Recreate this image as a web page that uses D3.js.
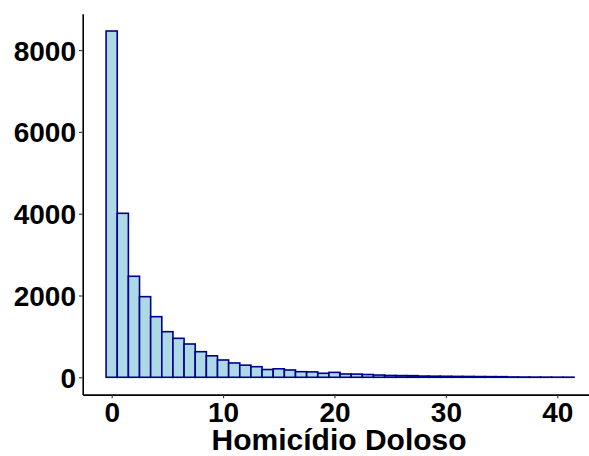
<!DOCTYPE html>
<html>
<head>
<meta charset="utf-8">
<script src="https://cdn.jsdelivr.net/npm/d3@7"></script>
<style>
  body { margin: 0; background: #fff; }
  svg { display: block; }
  .axis text { font-family: "Liberation Sans", Arial, sans-serif; font-weight: bold; font-size: 28px; fill: #000; }
  .axis .domain { stroke: #000; stroke-width: 1.6; }
  .axis .tick line { stroke: #333; stroke-width: 1.1; }
</style>
</head>
<body>
<svg id="chart"></svg>
<script>
// histogram bins (width 1, centred on integer values)
const binCenters = d3.range(0, 42);
const counts = [8467, 4010, 2470, 1971, 1482, 1115, 953, 814, 626, 525,
                423, 350, 297, 259, 190, 207, 179, 137, 132, 98,
                120, 81, 78, 68, 55, 45, 42, 40, 30, 27,
                25, 22, 20, 18, 16, 15, 8, 6, 5, 4,
                3, 3];
const xTicks = [0, 10, 20, 30, 40];
const yTicks = [0, 2000, 4000, 6000, 8000];
const xLabel = "Homicídio Doloso";

const W = 589, H = 456;
const svg = d3.select('#chart').attr('width', W).attr('height', H);

const binW = 1;
const xMin = -binW / 2, xMax = d3.max(binCenters) + binW / 2;
const xPad = (xMax - xMin) * 0.05;
const yMax = d3.max(counts);
const yPad = yMax * 0.05;

const xScale = d3.scaleLinear()
    .domain([xMin - xPad, xMax + xPad])
    .range([82.7, 597.4]);
const yScale = d3.scaleLinear()
    .domain([-yPad, yMax + yPad])
    .range([394.6, 13.7]);

const bins = binCenters.map((c, i) => ({ x0: c - binW / 2, x1: c + binW / 2, n: counts[i] }));

svg.append('g').selectAll('rect')
    .data(bins)
    .join('rect')
    .attr('x', d => xScale(d.x0))
    .attr('width', d => xScale(d.x1) - xScale(d.x0))
    .attr('y', d => yScale(d.n))
    .attr('height', d => yScale(0) - yScale(d.n))
    .attr('fill', '#ADD8E6')
    .attr('stroke', '#00008B')
    .attr('stroke-width', 1.6);

const xAxis = d3.axisBottom(xScale).tickValues(xTicks).tickSizeInner(3.7).tickSizeOuter(0).tickPadding(4);
const yAxis = d3.axisLeft(yScale).tickValues(yTicks).tickFormat(d3.format('d')).tickSizeInner(3.7).tickSizeOuter(0).tickPadding(3);

svg.append('g')
    .attr('class', 'axis x-axis')
    .attr('transform', `translate(0,${yScale.range()[0]})`)
    .call(xAxis)
    .selectAll('text').attr('dy', '0.72em');

svg.append('g')
    .attr('class', 'axis y-axis')
    .attr('transform', `translate(${xScale.range()[0]},0)`)
    .call(yAxis)
    .selectAll('text').attr('dy', '0.36em');

// X-Axis Label
svg.append('text')
    .attr('x', (xScale.range()[0] + xScale.range()[1]) / 2 - 1)
    .attr('y', 450)
    .attr('text-anchor', 'middle')
    .style('font-family', '"Liberation Sans", Arial, sans-serif')
    .style('font-weight', 'bold')
    .style('font-size', '30px')
    .text(xLabel);
</script>
</body>
</html>
